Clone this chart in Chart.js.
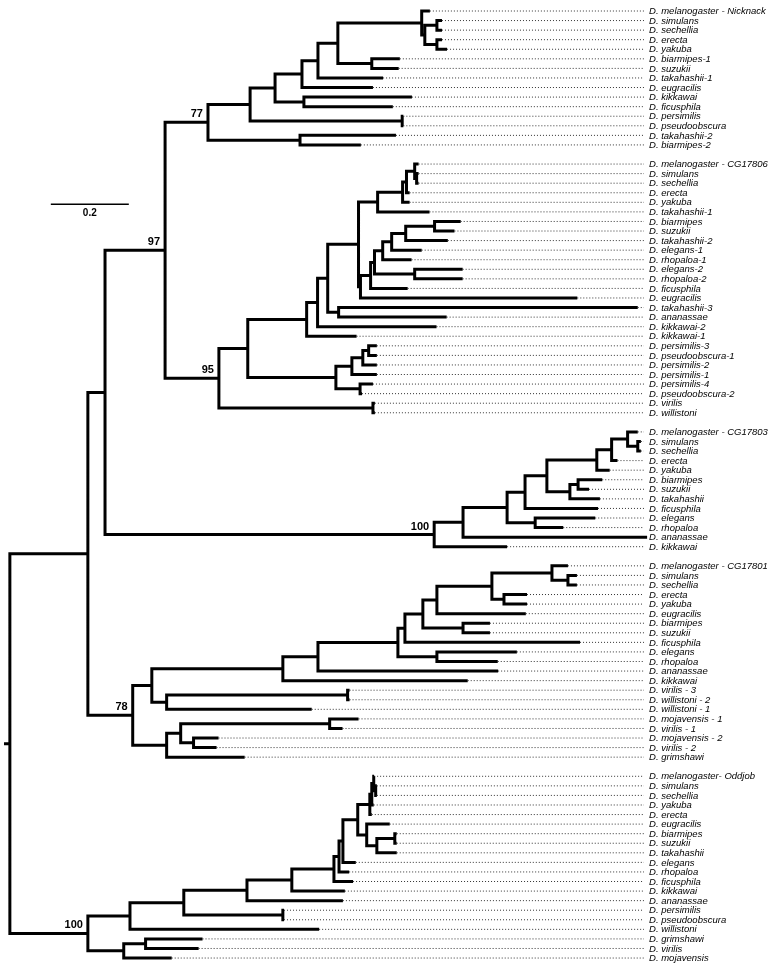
<!DOCTYPE html>
<html>
<head>
<meta charset="utf-8">
<script src="https://cdn.jsdelivr.net/npm/chart.js@4.4.1/dist/chart.umd.min.js"></script>
<style>
  html, body { margin: 0; padding: 0; background: #fff; }
  #wrap { width: 773px; height: 970px; position: relative; }
</style>
</head>
<body>
<div id="wrap"><canvas id="chart"></canvas></div>
<script>
// Tree edges: [child, parent, branch length]. Children are listed top to bottom.
// Leaves are the names starting with "D. ", everything else is an internal node id.
const backboneEdges = [
  ["root", null, 0.015],
  ["n88", "root", 0.200],
  ["n105", "n88", 0.044],
  ["n97", "n105", 0.154],
  ["A", "n97", 0.110],
  ["B", "n97", 0.138],
  ["C", "n105", 0.844],
  ["D", "n88", 0.115],
  ["E", "root", 0.200]
];

const nicknackEdges = [
  ["A1", "A", 0.108], ["A2", "A1", 0.064], ["A3", "A2", 0.069], ["A4", "A3", 0.041],
  ["A5", "A4", 0.051], ["A6", "A5", 0.215],
  ["D. melanogaster - Nicknack", "A6", 0.021],
  ["A7", "A6", 0.008], ["A8", "A7", 0.031],
  ["D. simulans", "A8", 0.013], ["D. sechellia", "A8", 0.013],
  ["A9", "A7", 0.031],
  ["D. erecta", "A9", 0.013], ["D. yakuba", "A9", 0.026],
  ["A10", "A5", 0.087],
  ["D. biarmipes-1", "A10", 0.072], ["D. suzukii", "A10", 0.069],
  ["D. takahashii-1", "A4", 0.167],
  ["D. eugracilis", "A3", 0.182],
  ["A11", "A2", 0.074],
  ["D. kikkawai", "A11", 0.277], ["D. ficusphila", "A11", 0.228],
  ["A12", "A1", 0.390],
  ["D. persimilis", "A12", 0.003], ["D. pseudoobscura", "A12", 0.003],
  ["A13", "A", 0.236],
  ["D. takahashii-2", "A13", 0.246], ["D. biarmipes-2", "A13", 0.156]
];

const cg17806Edges = [
  ["B1", "B", 0.074], ["B2", "B1", 0.151], ["B3", "B2", 0.028], ["B4", "B3", 0.026],
  ["B5", "B4", 0.079], ["B6", "B5", 0.049], ["B7", "B6", 0.064], ["B8", "B7", 0.010],
  ["B9", "B8", 0.021],
  ["D. melanogaster - CG17806", "B9", 0.010],
  ["B10", "B9", 0.005],
  ["D. simulans", "B10", 0.005], ["D. sechellia", "B10", 0.005],
  ["D. erecta", "B8", 0.008],
  ["D. yakuba", "B7", 0.018],
  ["D. takahashii-1", "B6", 0.133],
  ["B11", "B5", 0.005], ["B12", "B11", 0.026], ["B13", "B12", 0.010], ["B14", "B13", 0.021],
  ["B15", "B14", 0.023], ["B16", "B15", 0.036], ["B17", "B16", 0.074],
  ["D. biarmipes", "B17", 0.067], ["D. suzukii", "B17", 0.051],
  ["D. takahashii-2", "B16", 0.108],
  ["D. elegans-1", "B15", 0.077],
  ["D. rhopaloa-1", "B14", 0.074],
  ["B18", "B13", 0.103],
  ["D. elegans-2", "B18", 0.123], ["D. rhopaloa-2", "B18", 0.123],
  ["D. ficusphila", "B12", 0.095],
  ["D. eugracilis", "B11", 0.556],
  ["B19", "B4", 0.028],
  ["D. takahashii-3", "B19", 0.767], ["D. ananassae", "B19", 0.277],
  ["D. kikkawai-2", "B3", 0.305],
  ["D. kikkawai-1", "B2", 0.128],
  ["B20", "B1", 0.226], ["B21", "B20", 0.041], ["B22", "B21", 0.028], ["B23", "B22", 0.015],
  ["D. persimilis-3", "B23", 0.021], ["D. pseudoobscura-1", "B23", 0.021],
  ["D. persimilis-2", "B22", 0.036],
  ["D. persimilis-1", "B21", 0.064],
  ["B24", "B20", 0.062],
  ["D. persimilis-4", "B24", 0.033], ["D. pseudoobscura-2", "B24", 0.005],
  ["B25", "B", 0.395],
  ["D. virilis", "B25", 0.005], ["D. willistoni", "B25", 0.005]
];

const cg17803Edges = [
  ["C1", "C", 0.074], ["C2", "C1", 0.113], ["C3", "C2", 0.046], ["C4", "C3", 0.056],
  ["C5", "C4", 0.128], ["C6", "C5", 0.038], ["C7", "C6", 0.041],
  ["D. melanogaster - CG17803", "C7", 0.026],
  ["C8", "C7", 0.026],
  ["D. simulans", "C8", 0.008], ["D. sechellia", "C8", 0.008],
  ["D. erecta", "C6", 0.015],
  ["D. yakuba", "C5", 0.033],
  ["C9", "C4", 0.059], ["C10", "C9", 0.021],
  ["D. biarmipes", "C10", 0.062], ["D. suzukii", "C10", 0.028],
  ["D. takahashii", "C9", 0.077],
  ["D. ficusphila", "C3", 0.187],
  ["C11", "C2", 0.072],
  ["D. elegans", "C11", 0.154], ["D. rhopaloa", "C11", 0.072],
  ["D. ananassae", "C1", 0.472],
  ["D. kikkawai", "C", 0.187]
];

const cg17801Edges = [
  ["D1", "D", 0.049], ["D2", "D1", 0.336], ["D3", "D2", 0.090], ["D4", "D3", 0.205],
  ["D5", "D4", 0.018], ["D6", "D5", 0.046], ["D7", "D6", 0.036], ["D8", "D7", 0.141],
  ["D9", "D8", 0.154],
  ["D. melanogaster - CG17801", "D9", 0.041],
  ["D10", "D9", 0.041],
  ["D. simulans", "D10", 0.023], ["D. sechellia", "D10", 0.023],
  ["D11", "D8", 0.031],
  ["D. erecta", "D11", 0.059], ["D. yakuba", "D11", 0.059],
  ["D. eugracilis", "D7", 0.228],
  ["D12", "D6", 0.103],
  ["D. biarmipes", "D12", 0.069], ["D. suzukii", "D12", 0.069],
  ["D. ficusphila", "D5", 0.449],
  ["D13", "D4", 0.100],
  ["D. elegans", "D13", 0.205], ["D. rhopaloa", "D13", 0.156],
  ["D. ananassae", "D3", 0.462],
  ["D. kikkawai", "D2", 0.474],
  ["D14", "D1", 0.038], ["D15", "D14", 0.464],
  ["D. virilis - 3", "D15", 0.005], ["D. willistoni - 2", "D15", 0.005],
  ["D. willistoni - 1", "D14", 0.372],
  ["D16", "D", 0.087], ["D17", "D16", 0.036], ["D18", "D17", 0.382],
  ["D. mojavensis - 1", "D18", 0.074], ["D. virilis - 1", "D18", 0.033],
  ["D19", "D17", 0.033],
  ["D. mojavensis - 2", "D19", 0.064], ["D. virilis - 2", "D19", 0.059],
  ["D. grimshawi", "D16", 0.200]
];

const oddjobEdges = [
  ["E1", "E", 0.108], ["E2", "E1", 0.138], ["E3", "E2", 0.162], ["E4", "E3", 0.115],
  ["E5", "E4", 0.108], ["E6", "E5", 0.013], ["E7", "E6", 0.010], ["E8", "E7", 0.038],
  ["E9", "E8", 0.031], ["E10", "E9", 0.005], ["E11", "E10", 0.005],
  ["D. melanogaster- Oddjob", "E11", 0.001],
  ["E12", "E11", 0.005],
  ["D. simulans", "E12", 0.003], ["D. sechellia", "E12", 0.003],
  ["D. yakuba", "E10", 0.005],
  ["D. erecta", "E9", 0.005],
  ["E13", "E8", 0.023],
  ["D. eugracilis", "E13", 0.059],
  ["E14", "E13", 0.026], ["E15", "E14", 0.046],
  ["D. biarmipes", "E15", 0.005], ["D. suzukii", "E15", 0.005],
  ["D. takahashii", "E14", 0.051],
  ["D. elegans", "E7", 0.033],
  ["D. rhopaloa", "E6", 0.026],
  ["D. ficusphila", "E5", 0.049],
  ["D. kikkawai", "E4", 0.136],
  ["D. ananassae", "E3", 0.246],
  ["E16", "E2", 0.254],
  ["D. persimilis", "E16", 0.003], ["D. pseudoobscura", "E16", 0.003],
  ["D. willistoni", "E1", 0.485],
  ["E17", "E", 0.092], ["E18", "E17", 0.056],
  ["D. grimshawi", "E18", 0.146], ["D. virilis", "E18", 0.136],
  ["D. mojavensis", "E17", 0.123]
];

// bootstrap support on internal nodes
const bootstrapValues = [["A", 77], ["n97", 97], ["B", 95], ["C", 100], ["D", 78], ["E", 100]];

const scaleBarLength = 0.2;

// layout constants (axis units: x = substitutions/site, y = leaf row)
const LABEL_X = 1.654;
const LEADER_END = 1.641;
const SCALE_BAR = { start: 0.12, row: 20.2 };

// ---- build the tree ----
const nodes = {};
function getNode(id) {
  if (!nodes[id]) nodes[id] = { id: id, children: [], length: 0 };
  return nodes[id];
}
function addEdges(edges, clade) {
  edges.forEach(([child, parent, len]) => {
    let node;
    if (child.startsWith("D. ")) {
      node = { name: child, children: [], clade: clade };
    } else {
      node = getNode(child);
      if (!node.clade) node.clade = clade;
    }
    node.length = len;
    if (parent) getNode(parent).children.push(node);
  });
}
addEdges(backboneEdges, "backbone");
addEdges(nicknackEdges, "A");
addEdges(cg17806Edges, "B");
addEdges(cg17803Edges, "C");
addEdges(cg17801Edges, "D");
addEdges(oddjobEdges, "E");

// depths and rows; a blank row is left between paralog clades
const leaves = [];
let row = 0, lastClade = null;
function place(node, depth) {
  node.depth = depth + node.length;
  if (node.children.length === 0) {
    if (lastClade !== null && node.clade !== lastClade) row++;
    lastClade = node.clade;
    node.row = row++;
    leaves.push(node);
  } else {
    node.children.forEach(c => place(c, node.depth));
    node.row = (node.children[0].row + node.children[node.children.length - 1].row) / 2;
  }
}
const root = nodes["root"];
place(root, 0);

// ---- line data ----
const GAP = { x: null, y: null };
const branchPts = [{ x: 0, y: root.row }, { x: root.depth, y: root.row }, GAP];
function collect(node) {
  const kids = node.children;
  if (!kids.length) return;
  const first = kids[0], last = kids[kids.length - 1];
  branchPts.push(
    { x: first.depth, y: first.row }, { x: node.depth, y: first.row },
    { x: node.depth, y: last.row }, { x: last.depth, y: last.row }, GAP
  );
  kids.slice(1, -1).forEach(k => {
    branchPts.push({ x: node.depth, y: k.row }, { x: k.depth, y: k.row }, GAP);
  });
  kids.forEach(collect);
}
collect(root);

const leaderPts = [];
leaves.forEach(l => {
  if (l.depth < LEADER_END) {
    leaderPts.push({ x: l.depth, y: l.row }, { x: LEADER_END, y: l.row }, GAP);
  }
});

const scaleBarPts = [
  { x: SCALE_BAR.start, y: SCALE_BAR.row },
  { x: SCALE_BAR.start + scaleBarLength, y: SCALE_BAR.row }
];

// ---- text ----
const treeText = {
  id: "treeText",
  afterDatasetsDraw(chart) {
    const ctx = chart.ctx;
    const xs = chart.scales.x, ys = chart.scales.y;
    ctx.save();
    ctx.fillStyle = "#000";
    ctx.textBaseline = "middle";
    ctx.textAlign = "left";
    ctx.font = "italic 9.5px 'Liberation Sans', Arial, sans-serif";
    const lx = xs.getPixelForValue(LABEL_X);
    leaves.forEach(l => {
      ctx.fillText(l.name, lx, ys.getPixelForValue(l.row) + 0.5);
    });

    ctx.font = "bold 11px 'Liberation Sans', Arial, sans-serif";
    ctx.textAlign = "right";
    ctx.textBaseline = "alphabetic";
    bootstrapValues.forEach(([id, value]) => {
      const n = nodes[id];
      ctx.fillText(String(value), xs.getPixelForValue(n.depth) - 5, ys.getPixelForValue(n.row) - 5);
    });

    ctx.font = "bold 10px 'Liberation Sans', Arial, sans-serif";
    ctx.textAlign = "center";
    ctx.textBaseline = "top";
    const mid = xs.getPixelForValue(SCALE_BAR.start + scaleBarLength / 2);
    ctx.fillText(String(scaleBarLength), mid, ys.getPixelForValue(SCALE_BAR.row) + 4);
    ctx.restore();
  }
};

const ctx = document.getElementById("chart").getContext("2d");
new Chart(ctx, {
  type: "scatter",
  data: {
    datasets: [
      {
        data: branchPts, showLine: true, spanGaps: false,
        borderColor: "#000", borderWidth: 3, pointRadius: 0,
        borderJoinStyle: "miter", borderCapStyle: "butt"
      },
      {
        data: scaleBarPts, showLine: true,
        borderColor: "#000", borderWidth: 1.5, pointRadius: 0
      },
      {
        data: leaderPts, showLine: true, spanGaps: false,
        borderColor: "#333", borderWidth: 1, borderDash: [1, 2], pointRadius: 0
      }
    ]
  },
  options: {
    responsive: true,
    maintainAspectRatio: false,
    animation: false,
    events: [],
    layout: { padding: 0 },
    plugins: {
      legend: { display: false },
      tooltip: { enabled: false },
      title: { display: false }
    },
    scales: {
      x: { type: "linear", display: false, min: -0.0103, max: 1.9718 },
      y: { type: "linear", display: false, reverse: true, min: -1.15, max: 100.25 }
    }
  },
  plugins: [treeText]
});
</script>
</body>
</html>
